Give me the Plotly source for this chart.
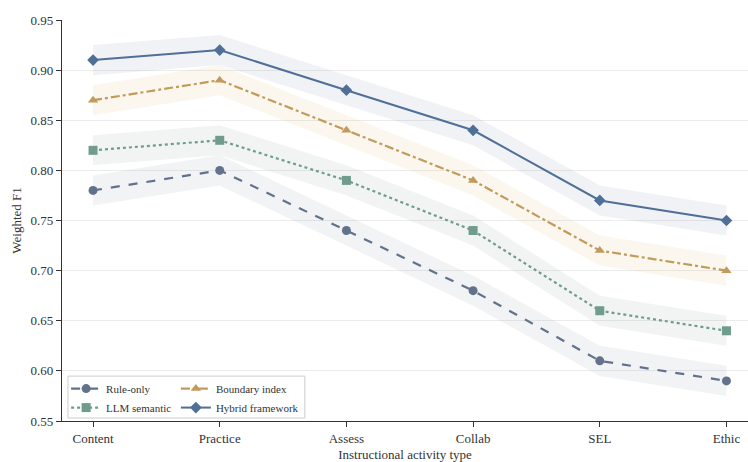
import plotly.graph_objects as go

categories = ["Content", "Practice", "Assess", "Collab", "SEL", "Ethic"]
rule_only = [0.78, 0.80, 0.74, 0.68, 0.61, 0.59]
llm_semantic = [0.82, 0.83, 0.79, 0.74, 0.66, 0.64]
boundary_index = [0.87, 0.89, 0.84, 0.79, 0.72, 0.70]
hybrid_framework = [0.91, 0.92, 0.88, 0.84, 0.77, 0.75]
band_halfwidth = 0.015

# name, values, colour, dash, marker, band fill, legend column
series = [
    ("Rule-only", rule_only, "#62728a", "dash", "circle", "rgba(120,135,155,0.10)", "legend"),
    ("LLM semantic", llm_semantic, "#6f9c8c", "dot", "square", "rgba(125,150,140,0.10)", "legend"),
    ("Boundary index", boundary_index, "#c29b5c", "dashdot", "triangle-up", "rgba(215,185,100,0.11)", "legend2"),
    ("Hybrid framework", hybrid_framework, "#4f6f97", "solid", "diamond", "rgba(105,125,165,0.10)", "legend2"),
]

xi = list(range(len(categories)))
fig = go.Figure()

for name, vals, color, dash, symbol, band, leg in series:
    upper = [v + band_halfwidth for v in vals]
    lower = [v - band_halfwidth for v in vals]
    fig.add_trace(go.Scatter(
        x=xi + xi[::-1], y=upper + lower[::-1],
        fill="toself", fillcolor=band, line=dict(width=0),
        mode="lines", hoverinfo="skip", showlegend=False,
    ))

for name, vals, color, dash, symbol, band, leg in series:
    fig.add_trace(go.Scatter(
        x=xi, y=vals, name=name, mode="lines+markers",
        line=dict(color=color, width=2.2 if dash != "solid" else 2, dash=dash),
        marker=dict(symbol=symbol, size=9, color=color),
        legend=leg,
    ))

font_family = "Liberation Serif, DejaVu Serif, serif"
legend_common = dict(
    orientation="v", xanchor="left", yanchor="top", y=0.117,
    bgcolor="rgba(0,0,0,0)", borderwidth=0,
    font=dict(size=11, family=font_family, color="#333333"),
    itemwidth=30, tracegroupgap=0,
)

fig.update_layout(
    width=748, height=462,
    margin=dict(l=62, r=0, t=20, b=41),
    paper_bgcolor="white", plot_bgcolor="white",
    font=dict(family=font_family, size=13, color="#333333"),
    showlegend=True,
    legend=dict(x=0.006, **legend_common),
    legend2=dict(x=0.166, **legend_common),
    shapes=[dict(
        type="rect", xref="x domain", yref="y domain",
        x0=0.0087, x1=0.354, y0=0.0075, y1=0.112,
        line=dict(color="#cccccc", width=1), fillcolor="rgba(255,255,255,0.85)",
        layer="above",
    )],
    xaxis=dict(
        tickmode="array", tickvals=xi, ticktext=categories,
        range=[-0.245, 5.17], showgrid=False, zeroline=False,
        showline=True, linecolor="#333333", linewidth=1.2,
        ticks="outside", ticklen=5, tickcolor="#333333",
        title=dict(text="Instructional activity type", font=dict(size=13), standoff=6),
        tickfont=dict(size=13),
    ),
    yaxis=dict(
        range=[0.55, 0.95], dtick=0.05, tickformat=".2f",
        showgrid=True, gridcolor="#ebebeb", gridwidth=1, zeroline=False,
        showline=True, linecolor="#333333", linewidth=1.2,
        ticks="outside", ticklen=5, tickcolor="#333333",
        title=dict(text="Weighted F1", font=dict(size=13), standoff=5),
        tickfont=dict(size=13),
    ),
)

fig.write_html("out.html")
